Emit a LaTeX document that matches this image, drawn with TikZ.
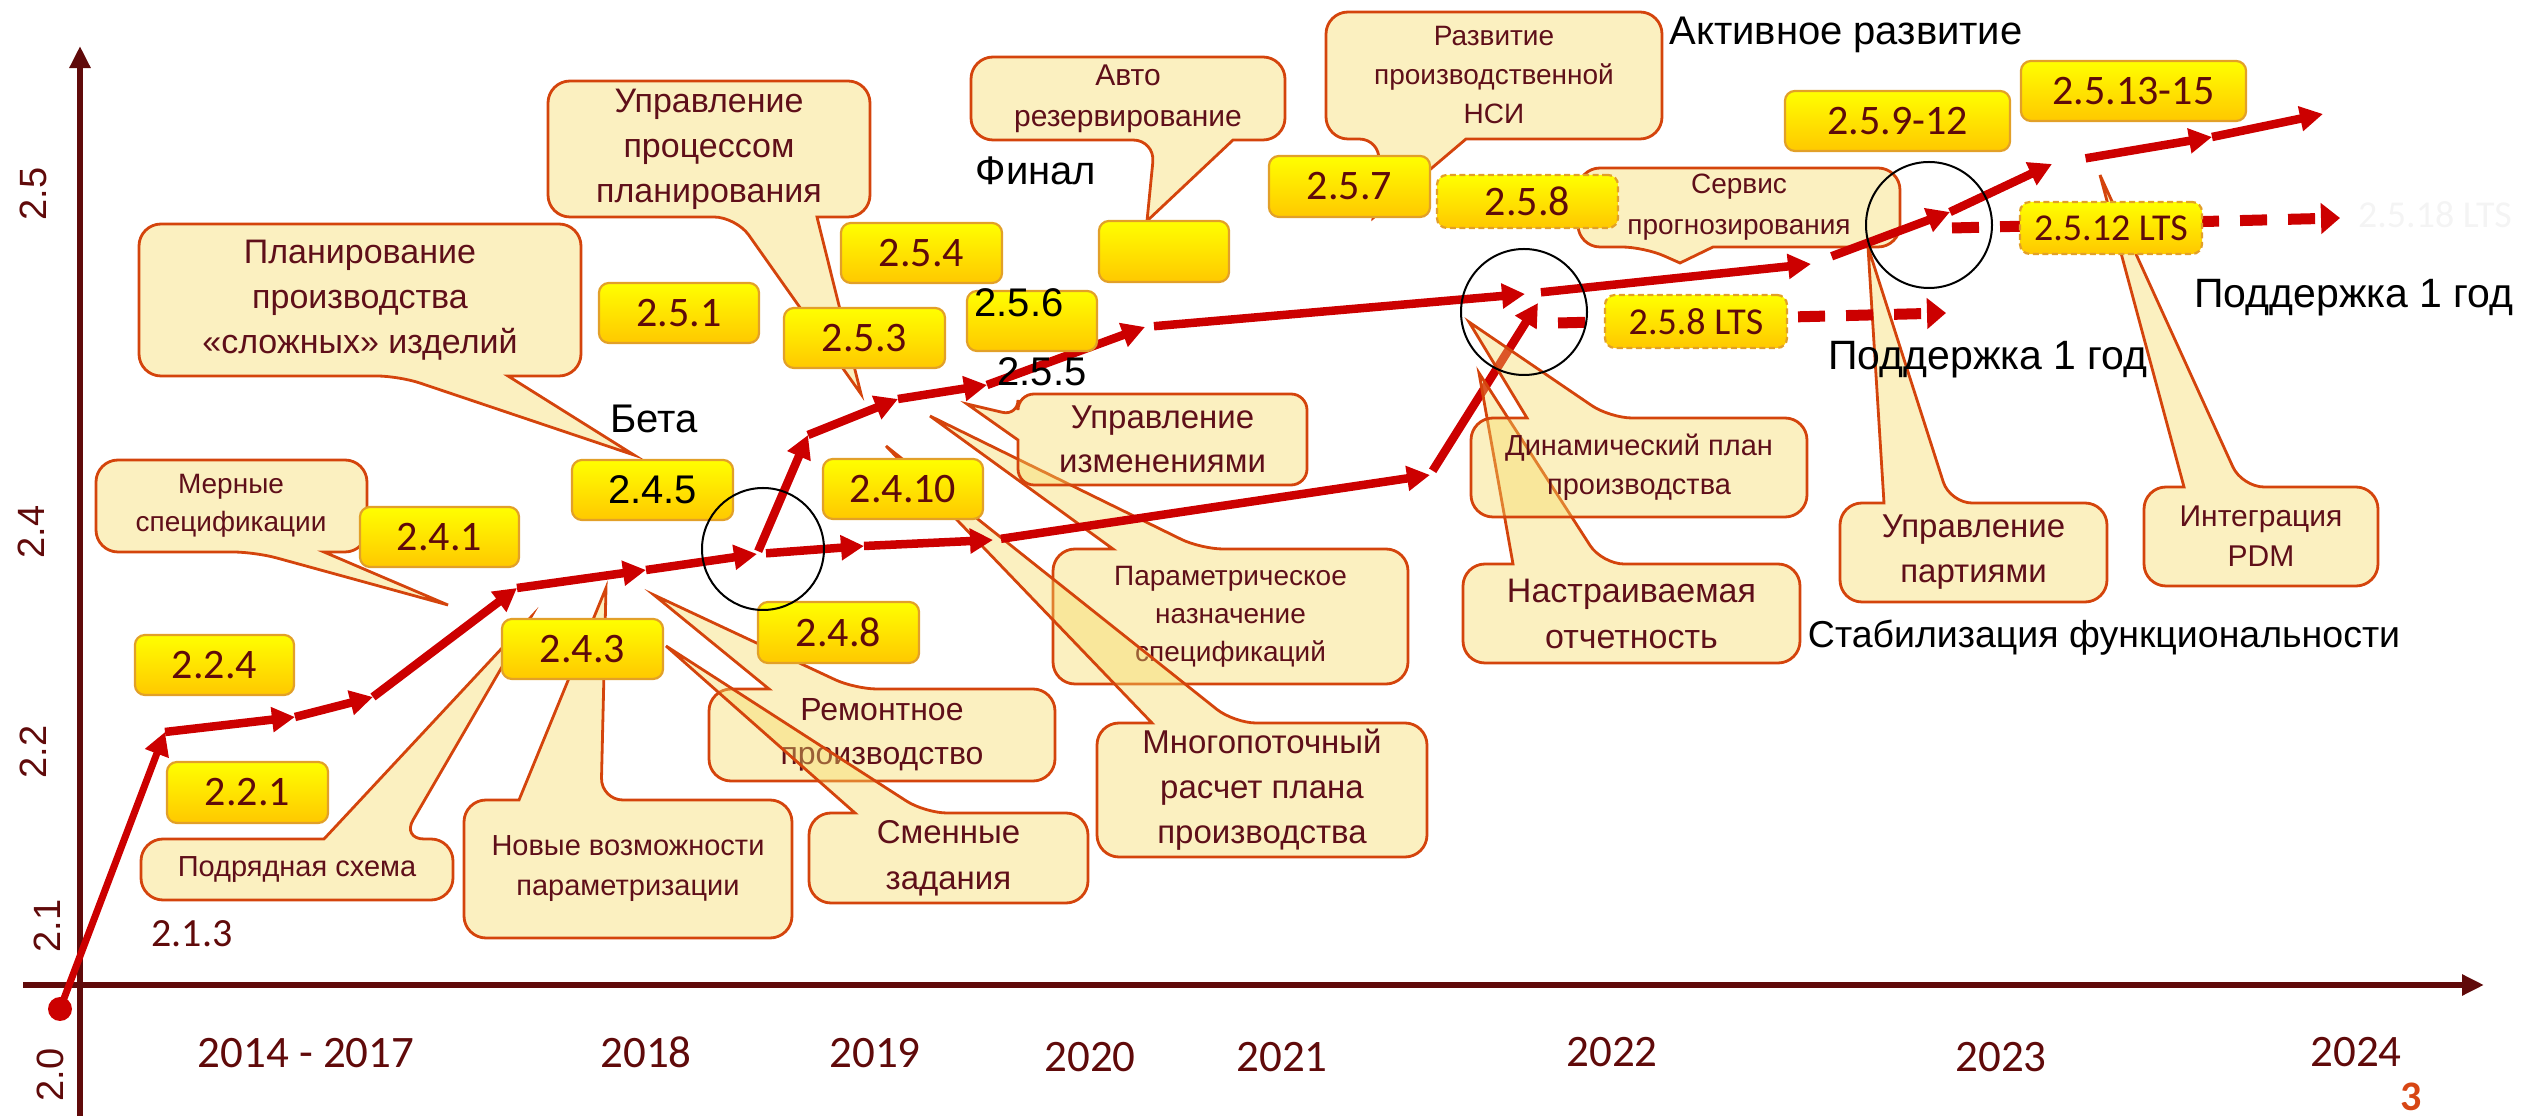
\documentclass[tikz,border=0pt]{standalone}
\usepackage{fontspec}
\setmainfont{Liberation Sans}
\newfontfamily\calib{Carlito}
\usetikzlibrary{arrows.meta}

\definecolor{axiscol}{RGB}{96,10,10}
\definecolor{arrowred}{RGB}{204,0,0}
\definecolor{calloutfill}{RGB}{245,217,98}
\definecolor{calloutline}{RGB}{212,68,12}
\definecolor{callouttext}{RGB}{95,15,25}
\definecolor{relTop}{RGB}{255,255,0}
\definecolor{relBottom}{RGB}{255,200,0}
\definecolor{relline}{RGB}{226,160,40}
\definecolor{reltext}{RGB}{95,10,10}
\definecolor{pagenum}{RGB}{215,70,20}
\definecolor{ghost}{RGB}{244,244,244}

% one unit of the picture
\newdimen\pxu
\pxu=0.01cm
\newcommand\pxfont[2]{\fontsize{#1\pxu}{#2\pxu}\selectfont}

% callouts: x1,y1,x2,y2, pointer base a,b, pointer tip
\newcommand\calltop[7]{\draw[callout] (#5,#2) [rounded corners=0.22cm] -- (#1,#2) -- (#1,#4) -- (#3,#4) -- (#3,#2) -- (#6,#2) [sharp corners] -- #7 -- cycle;}
\newcommand\callbottom[7]{\draw[callout] (#6,#4) [rounded corners=0.22cm] -- (#3,#4) -- (#3,#2) -- (#1,#2) -- (#1,#4) -- (#5,#4) [sharp corners] -- #7 -- cycle;}
\newcommand\callleft[7]{\draw[callout] (#1,#6) [rounded corners=0.16cm] -- (#1,#4) -- (#3,#4) -- (#3,#2) -- (#1,#2) -- (#1,#5) [sharp corners] -- #7 -- cycle;}

\begin{document}
\begin{tikzpicture}[x=0.01cm, y=-0.01cm,
  axis/.style={draw=axiscol, line width=0.065cm, -{Triangle[length=0.22cm,width=0.2cm]}},
  stage/.style={draw=arrowred, line width=0.085cm, -{Triangle[length=0.23cm,width=0.24cm]}},
  support/.style={draw=arrowred, line width=0.11cm, dash pattern=on 0.27cm off 0.21cm, -{Triangle[length=0.19cm,width=0.3cm]}},
  callout/.style={draw=calloutline, line width=0.028cm, fill=calloutfill, fill opacity=0.4},
  calltext/.style={text=callouttext, align=center, inner sep=0pt},
  rel/.style={draw=relline, line width=0.022cm, rounded corners=0.1cm, top color=relTop, bottom color=relBottom, text=reltext, font=\calib\pxfont{42}{50}, inner sep=0pt},
  rellts/.style={rel, dash pattern=on 0.06cm off 0.035cm, font=\calib\pxfont{38}{46}},
  ring/.style={draw=black, line width=0.02cm},
  tick/.style={text=axiscol, font=\pxfont{38}{46}, rotate=90},
  year/.style={text=axiscol, font=\calib\pxfont{45}{54}, anchor=base},
  phase/.style={font=\pxfont{40}{48}, anchor=base}]
\useasboundingbox (0,0) rectangle (2526,1116);

% Draw axes
\coordinate (ybot) at (80,1116);
\coordinate (ytop) at (80,46);
\coordinate (xl) at (23,985);
\coordinate (xr) at (2484,985);
\draw[axis] (ybot) -- (ytop);
\draw[axis] (xl) -- (xr);

\node[tick] (t25) at (33,194) {2.5};
\node[tick] (t24) at (31,532) {2.4};
\node[tick] (t22) at (33,752) {2.2};
\node[tick] (t21) at (47,926) {2.1};
\node[tick] (t20) at (50,1075) {2.0};

\node[year] (y1417) at (306,1068) {2014 - 2017};
\node[year] (y18) at (646,1068) {2018};
\node[year] (y19) at (875,1068) {2019};
\node[year] (y20) at (1090,1072) {2020};
\node[year] (y21) at (1282,1072) {2021};
\node[year] (y22) at (1612,1067) {2022};
\node[year] (y23) at (2001,1072) {2023};
\node[year] (y24) at (2356,1067) {2024};
\node[year, font=\calib\pxfont{40}{48}] (v213) at (192,947) {2.1.3};
\node[anchor=base, inner sep=0pt, text=pagenum, font=\calib\bfseries\pxfont{42}{50}] (pg) at (2411,1110) {3};

% callouts under the arrows
\callbottom{139}{224}{581}{376}{399}{508}{(634,455)}
\node[calltext, font=\pxfont{34}{45}] (cplan) at (360,300) {Планирование\\производства\\«сложных» изделий};
\callbottom{548}{81}{870}{217}{736}{817}{(861,394)}
\node[calltext, font=\pxfont{34}{45}] (cproc) at (709,149) {Управление\\процессом\\планирования};
\callbottom{96}{460}{367}{552}{255}{324}{(448,605)}
\node[calltext, font=\pxfont{28}{38}] (cmern) at (231,506) {Мерные\\спецификации};
\calltop{141}{839}{453}{900}{324}{402}{(531,617)}
\node[calltext, font=\pxfont{29}{38}] (cpodr) at (297,870) {Подрядная схема};
\calltop{464}{800}{792}{938}{519}{601}{(606,588)}
\node[calltext, font=\pxfont{29}{40}] (cnew) at (628,869) {Новые возможности\\параметризации};
\calltop{709}{689}{1055}{781}{769}{855}{(654,595)}
\node[calltext, font=\pxfont{32}{44}] (crem) at (882,735) {Ремонтное\\производство};
\calltop{809}{813}{1088}{903}{855}{925}{(666,646)}
\node[calltext, font=\pxfont{33}{46}] (csmen) at (948.5,858) {Сменные\\задания};
\calltop{1053}{549}{1408}{684}{1113}{1201}{(930,416)}
\node[calltext, font=\pxfont{28}{38}] (cparam) at (1230.5,616.5) {Параметрическое\\назначение\\спецификаций};
\calltop{1097}{723}{1427}{857}{1152}{1234}{(886,446)}
\node[calltext, font=\pxfont{33}{45}] (cmulti) at (1262,790) {Многопоточный\\расчет плана\\производства};
\callleft{1018}{394}{1307}{485}{416}{440}{(967,404)}
\node[calltext, font=\pxfont{33}{44}] (cchg) at (1162.5,439.5) {Управление\\изменениями};
\callbottom{971}{57}{1285}{140}{1155}{1233}{(1147,221)}
\node[calltext, font=\pxfont{30}{41}] (cauto) at (1128,98.5) {Авто\\резервирование};
\callbottom{1326}{12}{1662}{139}{1381}{1466}{(1373,218)}
\node[calltext, font=\pxfont{28}{39}] (cnsi) at (1494,75.5) {Развитие\\производственной\\НСИ};
\callbottom{1578}{168}{1900}{247}{1644}{1713}{(1680,263)}
\node[calltext, font=\pxfont{28}{41}] (cserv) at (1739,207.5) {Сервис\\прогнозирования};
\calltop{1840}{503}{2107}{602}{1884}{1950}{(1868,247)}
\node[calltext, font=\pxfont{33}{45}] (clots) at (1973.5,552.5) {Управление\\партиями};
\calltop{2144}{487}{2378}{586}{2184}{2242}{(2100,175)}
\node[calltext, font=\pxfont{30}{40}] (cpdm) at (2261,536.5) {Интеграция\\PDM};

% release path
\coordinate (v0) at (60,1009);
\coordinate (v1) at (165,732);
\coordinate (v2) at (295,717);
\coordinate (v3) at (373,697);
\coordinate (v4) at (517,588);
\coordinate (v5) at (646,570);
\coordinate (v6) at (757,554);
\coordinate (u7) at (808,435);
\coordinate (u8) at (898,399);
\coordinate (u9) at (987,385);
\coordinate (u10) at (1145,327);
\coordinate (u11) at (1525,294);
\coordinate (u12) at (1811,264);
\coordinate (u13) at (1950,212);
\coordinate (u14) at (2052,164);
\coordinate (u15) at (2212,137);
\coordinate (u16) at (2323,114);
\coordinate (l1) at (864,546);
\coordinate (l2) at (993,540);
\coordinate (l3) at (1430,475);
\coordinate (l4) at (1538,303);
\coordinate (d1s) at (1558,323);
\coordinate (d1e) at (1946,313);
\coordinate (d2s) at (1952,228);
\coordinate (d2e) at (2340,218);

\fill[arrowred] (v0) circle[radius=12];
\draw[stage, line width=0.07cm] (v0) -- (v1);
\draw[stage] (v1) -- (v2);
\draw[stage] (v2) -- (v3);
\draw[stage] (v3) -- (v4);
\draw[stage] (v4) -- (v5);
\draw[stage] (v5) -- (v6);
\draw[stage, shorten <=0.03cm] (v6) -- (u7);
\draw[stage] (u7) -- (u8);
\draw[stage] (u8) -- (u9);
\draw[stage] (u9) -- (u10);
\draw[stage, shorten <=0.09cm] (u10) -- (u11);
\draw[stage, shorten <=0.16cm] (u11) -- (u12);
\draw[stage, shorten <=0.22cm] (u12) -- (u13);
\draw[stage] (u13) -- (u14);
\draw[stage, shorten <=0.34cm] (u14) -- (u15);
\draw[stage] (u15) -- (u16);
\draw[stage, shorten <=0.09cm] (v6) -- (l1);
\draw[stage] (l1) -- (l2);
\draw[stage, shorten <=0.08cm] (l2) -- (l3);
\draw[stage, shorten <=0.05cm] (l3) -- (l4);
\draw[support] (d1s) -- (d1e);
\draw[support] (d2s) -- (d2e);

% callouts over the arrows
\calltop{1463}{564}{1800}{663}{1513}{1602}{(1479,373)}
\node[calltext, font=\pxfont{34}{46}] (crep) at (1631.5,613.5) {Настраиваемая\\отчетность};
\calltop{1471}{418}{1807}{517}{1527}{1610}{(1469,322)}
\node[calltext, font=\pxfont{29}{39}] (cdyn) at (1639,467.5) {Динамический план\\производства};

% releases
\node[rel, minimum width=1.59cm, minimum height=0.6cm] (r224) at (214.5,665) {2.2.4};
\node[rel, minimum width=1.61cm, minimum height=0.61cm] (r221) at (247.5,792.5) {2.2.1};
\node[rel, minimum width=1.59cm, minimum height=0.6cm] (r241) at (439.5,537) {2.4.1};
\node[rel, minimum width=1.61cm, minimum height=0.6cm, text=black, font=\pxfont{40}{48}] (r245) at (652.5,490) {2.4.5};
\node[rel, minimum width=1.61cm, minimum height=0.6cm] (r243) at (582.5,649) {2.4.3};
\node[rel, minimum width=1.61cm, minimum height=0.61cm] (r248) at (838.5,632.5) {2.4.8};
\node[rel, minimum width=1.6cm, minimum height=0.6cm] (r2410) at (903,489) {2.4.10};
\node[rel, minimum width=1.6cm, minimum height=0.6cm] (r251) at (679,313) {2.5.1};
\node[rel, minimum width=1.61cm, minimum height=0.6cm] (r253) at (864.5,338) {2.5.3};
\node[rel, minimum width=1.61cm, minimum height=0.6cm] (r254) at (921.5,253) {2.5.4};
\node[rel, minimum width=1.3cm, minimum height=0.6cm] (r256) at (1032,321) {};
\node[rel, minimum width=1.3cm, minimum height=0.61cm] (rauto) at (1164,251.5) {};
\node[rel, minimum width=1.61cm, minimum height=0.61cm] (r257) at (1349.5,186.5) {2.5.7};
\node[rellts, minimum width=1.81cm, minimum height=0.53cm, font=\calib\pxfont{42}{50}] (r258) at (1527.5,201.5) {2.5.8};
\node[rellts, minimum width=1.82cm, minimum height=0.53cm] (r258lts) at (1696,321.5) {2.5.8 LTS};
\node[rel, minimum width=2.25cm, minimum height=0.6cm] (r259) at (1897.5,121) {2.5.9-12};
\node[rel, minimum width=2.25cm, minimum height=0.6cm] (r2513) at (2133.5,91) {2.5.13-15};
\node[rellts, minimum width=1.82cm, minimum height=0.52cm] (r2512lts) at (2111,228) {2.5.12 LTS};
\node[anchor=base, text=ghost, font=\calib\pxfont{38}{46}] (r2518lts) at (2435,228) {2.5.18 LTS};

% phases
\node[phase] (v256) at (1019,317) {2.5.6};
\node[phase] (v255) at (1042,386) {2.5.5};
\node[phase] (beta) at (654,433) {Бета};
\node[phase] (final) at (1036,185) {Финал};
\node[phase] (active) at (1846,45) {Активное развитие};
\node[phase, font=\pxfont{41}{48}] (sup1) at (1988,370) {Поддержка 1 год};
\node[phase, font=\pxfont{41}{48}] (sup2) at (2354,308) {Поддержка 1 год};
\node[phase, font=\pxfont{37.5}{46}] (stab) at (2104,648) {Стабилизация функциональности};

\draw[ring] (763,549) circle[radius=61];
\draw[ring] (1524,312) circle[radius=63];
\draw[ring] (1929,225) circle[radius=63];
\end{tikzpicture}
\end{document}
